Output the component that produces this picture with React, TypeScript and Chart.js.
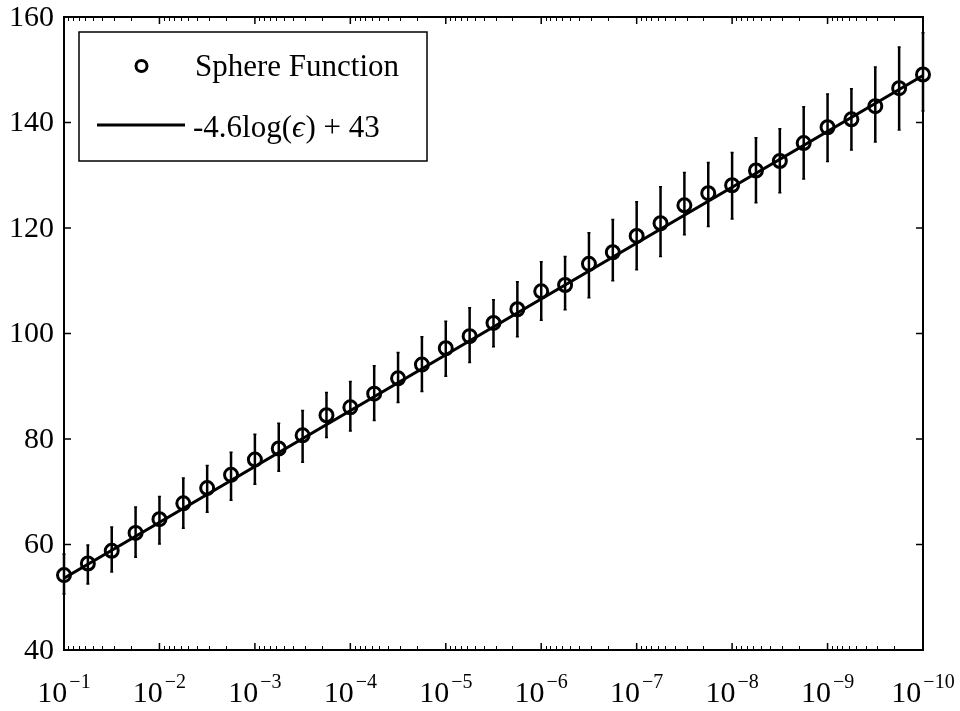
import React, { useEffect, useRef } from "react";
import { Chart, registerables } from "chart.js";

Chart.register(...registerables);

// Tolerance epsilon (x, reversed log axis)
const epsilon = [
  1e-1, 5.623e-2, 3.162e-2, 1.778e-2,
  1e-2, 5.623e-3, 3.162e-3, 1.778e-3,
  1e-3, 5.623e-4, 3.162e-4, 1.778e-4,
  1e-4, 5.623e-5, 3.162e-5, 1.778e-5,
  1e-5, 5.623e-6, 3.162e-6, 1.778e-6,
  1e-6, 5.623e-7, 3.162e-7, 1.778e-7,
  1e-7, 5.623e-8, 3.162e-8, 1.778e-8,
  1e-8, 5.623e-9, 3.162e-9, 1.778e-9,
  1e-9, 5.623e-10, 3.162e-10, 1.778e-10,
  1e-10,
];

// Sphere Function mean values
const sphereMean = [
  54.2, 56.4, 58.8, 62.2, 64.8, 67.8, 70.7, 73.2, 76.1, 78.2,
  80.7, 84.5, 86.0, 88.6, 91.5, 94.1, 97.2, 99.5, 102.0, 104.6,
  108.0, 109.2, 113.2, 115.4, 118.5, 120.9, 124.3, 126.6, 128.1, 130.9,
  132.7, 136.1, 139.1, 140.6, 143.1, 146.5, 149.1,
];

// Error bar upper ends
const sphereUpper = [
  58.2, 59.9, 63.3, 67.1, 69.1, 72.6, 75.0, 77.5, 80.9, 83.0,
  85.4, 88.8, 90.9, 93.9, 96.4, 99.4, 102.3, 104.9, 106.4, 109.8,
  113.6, 114.6, 119.1, 121.6, 125.0, 127.8, 130.5, 132.4, 134.3, 137.1,
  138.8, 143.0, 145.4, 146.4, 150.5, 154.3, 157.0,
];

// Error bar lower ends
const sphereLower = [
  50.6, 52.5, 54.8, 57.6, 60.1, 63.1, 66.1, 68.4, 71.4, 73.9,
  75.6, 80.3, 81.5, 83.5, 86.9, 89.0, 91.9, 94.5, 97.5, 99.4,
  102.5, 104.5, 106.8, 110.0, 112.1, 114.6, 118.7, 120.3, 121.7, 124.8,
  126.7, 129.3, 132.6, 134.8, 136.3, 138.6, 142.2,
];

// Fit line -4.6 log(eps) + 43, endpoints
const fitX = [1e-1, 1e-10];
const fitY = [53.6, 148.9];

// Axis ticks
const xTickValues = [1e-1, 1e-2, 1e-3, 1e-4, 1e-5, 1e-6, 1e-7, 1e-8, 1e-9, 1e-10];
const xTickExponents = ["\u22121", "\u22122", "\u22123", "\u22124", "\u22125", "\u22126", "\u22127", "\u22128", "\u22129", "\u221210"];
const xMinorMultipliers = [2, 3, 4, 5, 6, 7, 8, 9];
const yTickValues = [40, 60, 80, 100, 120, 140, 160];
const yTickLabels = ["40", "60", "80", "100", "120", "140", "160"];

const legendLabels = ["Sphere Function", "-4.6log(", "\u03F5", ") + 43"];

const SERIF = "'Liberation Serif', 'Times New Roman', serif";

const customDraw = {
  id: "customDraw",
  beforeDatasetsDraw(chart: any) {
    const ctx = chart.ctx;
    const xs = chart.scales.x;
    const ys = chart.scales.y;
    ctx.save();
    ctx.strokeStyle = "#000";
    ctx.lineCap = "butt";
    for (let i = 0; i < epsilon.length; i++) {
      const x = xs.getPixelForValue(epsilon[i]);
      const yt = ys.getPixelForValue(sphereUpper[i]);
      const yb = ys.getPixelForValue(sphereLower[i]);
      ctx.lineWidth = 2.5;
      ctx.beginPath();
      ctx.moveTo(x, yt);
      ctx.lineTo(x, yb);
      ctx.stroke();
      ctx.lineWidth = 1.5;
      ctx.beginPath();
      ctx.moveTo(x - 1.5, yt);
      ctx.lineTo(x + 1.5, yt);
      ctx.moveTo(x - 1.5, yb);
      ctx.lineTo(x + 1.5, yb);
      ctx.stroke();
    }
    ctx.restore();
  },
  afterDraw(chart: any) {
    const ctx = chart.ctx;
    const xs = chart.scales.x;
    const ys = chart.scales.y;
    const { left, right, top, bottom } = chart.chartArea;
    ctx.save();
    ctx.strokeStyle = "#000";
    ctx.fillStyle = "#000";

    // box
    ctx.lineWidth = 2;
    ctx.strokeRect(left, top, right - left, bottom - top);

    // y ticks (inward, both sides)
    ctx.lineWidth = 1.5;
    ctx.beginPath();
    for (const v of yTickValues) {
      const y = ys.getPixelForValue(v);
      ctx.moveTo(left, y);
      ctx.lineTo(left + 7, y);
      ctx.moveTo(right, y);
      ctx.lineTo(right - 7, y);
    }
    // x major ticks
    for (const v of xTickValues) {
      const x = xs.getPixelForValue(v);
      ctx.moveTo(x, bottom);
      ctx.lineTo(x, bottom - 7);
      ctx.moveTo(x, top);
      ctx.lineTo(x, top + 7);
    }
    ctx.stroke();
    // x minor ticks
    ctx.lineWidth = 1;
    ctx.beginPath();
    for (let d = 1; d < xTickValues.length; d++) {
      for (const m of xMinorMultipliers) {
        const v = m * xTickValues[d];
        const x = Math.round(xs.getPixelForValue(v)) + 0.5;
        ctx.moveTo(x, bottom);
        ctx.lineTo(x, bottom - 4);
        ctx.moveTo(x, top);
        ctx.lineTo(x, top + 4);
      }
    }
    ctx.stroke();

    // y tick labels
    ctx.font = `30px ${SERIF}`;
    ctx.textAlign = "right";
    ctx.textBaseline = "middle";
    for (let i = 0; i < yTickValues.length; i++) {
      ctx.fillText(yTickLabels[i], left - 10, ys.getPixelForValue(yTickValues[i]) + 1);
    }

    // x tick labels with superscripts
    ctx.textBaseline = "alphabetic";
    ctx.textAlign = "left";
    for (let i = 0; i < xTickValues.length; i++) {
      const x = xs.getPixelForValue(xTickValues[i]);
      ctx.font = `30px ${SERIF}`;
      const wBase = ctx.measureText("10").width;
      ctx.font = `20px ${SERIF}`;
      const wExp = ctx.measureText(xTickExponents[i]).width;
      const total = wBase + 2 + wExp;
      const x0 = x - total / 2;
      ctx.font = `30px ${SERIF}`;
      ctx.fillText("10", x0, 702);
      ctx.font = `20px ${SERIF}`;
      ctx.fillText(xTickExponents[i], x0 + wBase + 2, 688);
    }

    // legend
    const lx = 79, ly = 32, lw = 348, lh = 129;
    ctx.fillStyle = "#fff";
    ctx.fillRect(lx, ly, lw, lh);
    ctx.lineWidth = 1.5;
    ctx.strokeRect(lx, ly, lw, lh);
    ctx.fillStyle = "#000";
    ctx.lineWidth = 3;
    ctx.beginPath();
    ctx.arc(141.5, 66, 5.5, 0, Math.PI * 2);
    ctx.stroke();
    ctx.font = `31px ${SERIF}`;
    ctx.fillText(legendLabels[0], 195, 76);
    ctx.lineWidth = 3;
    ctx.beginPath();
    ctx.moveTo(97, 125);
    ctx.lineTo(185, 125);
    ctx.stroke();
    let tx = 193;
    ctx.font = `31px ${SERIF}`;
    ctx.fillText(legendLabels[1], tx, 137);
    tx += ctx.measureText(legendLabels[1]).width;
    ctx.font = `italic 31px ${SERIF}`;
    ctx.fillText(legendLabels[2], tx, 137);
    tx += ctx.measureText(legendLabels[2]).width + 1;
    ctx.font = `31px ${SERIF}`;
    ctx.fillText(legendLabels[3], tx, 137);
    ctx.restore();
  },
};

export default function App() {
  const ref = useRef<HTMLCanvasElement | null>(null);
  useEffect(() => {
    document.body.style.margin = "0";
    const canvas = ref.current!;
    const chart = new Chart(canvas, {
      type: "scatter",
      data: {
        datasets: [
          {
            label: "Sphere Function",
            data: epsilon.map((x, i) => ({ x, y: sphereMean[i] })),
            showLine: false,
            pointRadius: 6.5,
            pointHoverRadius: 6.5,
            pointBorderWidth: 3,
            pointBorderColor: "#000",
            pointBackgroundColor: "rgba(0,0,0,0)",
            clip: false as any,
            order: 1,
          },
          {
            label: "-4.6log(\u03F5) + 43",
            data: fitX.map((x, i) => ({ x, y: fitY[i] })),
            showLine: true,
            borderColor: "#000",
            borderWidth: 3,
            pointRadius: 0,
            order: 2,
          },
        ],
      },
      options: {
        responsive: false,
        animation: false,
        devicePixelRatio: 1,
        layout: { padding: { top: 17, right: 37, left: 64, bottom: 0 } },
        plugins: { legend: { display: false }, tooltip: { enabled: false } },
        scales: {
          x: {
            type: "logarithmic",
            min: 1e-10,
            max: 1e-1,
            reverse: true,
            grid: { display: false },
            border: { display: false },
            ticks: { display: false },
            afterFit: (s: any) => {
              s.height = 61;
            },
          },
          y: {
            type: "linear",
            min: 40,
            max: 160,
            grid: { display: false, drawTicks: false },
            border: { display: false },
            ticks: { display: false, stepSize: 20 },
            afterFit: (s: any) => {
              s.width = 0;
            },
          },
        },
      },
      plugins: [customDraw],
    });
    return () => chart.destroy();
  }, []);
  return (
    <div style={{ width: 960, height: 711, background: "#fff" }}>
      <canvas ref={ref} width={960} height={711} style={{ display: "block" }} />
    </div>
  );
}
